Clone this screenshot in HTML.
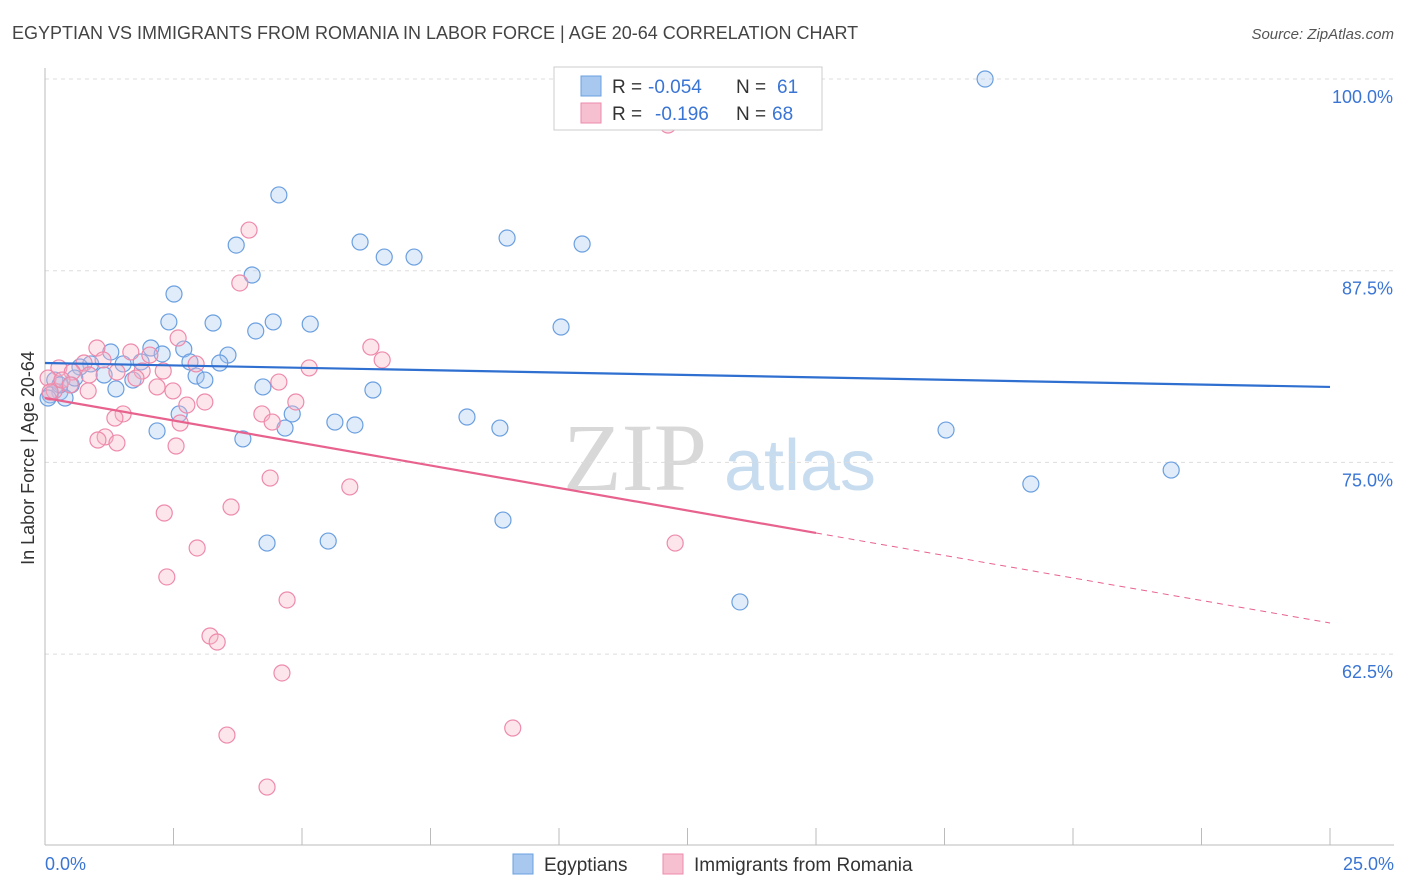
<!DOCTYPE html>
<html><head><meta charset="utf-8"><style>
body{margin:0;background:#fff;font-family:"Liberation Sans",sans-serif;}
svg{display:block}
</style></head><body>
<svg width="1406" height="892" viewBox="0 0 1406 892" id="chart">
<text x="12" y="39" font-size="18" fill="#444">EGYPTIAN VS IMMIGRANTS FROM ROMANIA IN LABOR FORCE | AGE 20-64 CORRELATION CHART</text>
<text x="1394" y="39" font-size="15" fill="#555" font-style="italic" text-anchor="end">Source: ZipAtlas.com</text>
<g>
<text x="635" y="490" font-size="96" fill="#d8d8d8" font-family="Liberation Serif,serif" text-anchor="middle">ZIP</text>
<text x="800" y="490" font-size="72" fill="#c8dcf0" text-anchor="middle">atlas</text>
</g>
<g id="grid"></g>
<g id="axes"></g>
<g id="marks"></g>
<g>
<rect x="554" y="67" width="268" height="63" fill="#fff" stroke="#ccc"/>
<rect x="581" y="76" width="20" height="20" fill="#a8c8f0" stroke="#6a9fe0"/>
<text y="93" font-size="19" fill="#333"><tspan x="612">R =</tspan><tspan x="648" fill="#3a75d4">-0.054</tspan><tspan x="736">N =</tspan><tspan x="777" fill="#3a75d4">61</tspan></text>
<rect x="581" y="103" width="20" height="20" fill="#f7c0d0" stroke="#ee8aab"/>
<text y="120" font-size="19" fill="#333"><tspan x="612">R =</tspan><tspan x="655" fill="#3a75d4">-0.196</tspan><tspan x="736">N =</tspan><tspan x="772" fill="#3a75d4">68</tspan></text>
</g>
<g>
<rect x="513" y="854" width="20" height="20" fill="#a8c8f0" stroke="#6a9fe0"/>
<text x="544" y="871" font-size="19" fill="#333">Egyptians</text>
<rect x="663" y="854" width="20" height="20" fill="#f7c0d0" stroke="#ee8aab"/>
<text x="694" y="871" font-size="19" fill="#333">Immigrants from Romania</text>
</g>
<text x="34" y="458" font-size="18" fill="#333" text-anchor="middle" transform="rotate(-90 34 458)">In Labor Force | Age 20-64</text>
</svg>
<script>
const yTicks=[100,87.5,75,62.5];
const yTickLabels=["100.0%","87.5%","75.0%","62.5%"];
const xTickLabels=["0.0%","25.0%"];
const blueX=[18.29,4.55,8.99,3.72,6.13,10.45,6.60,7.18,4.03,2.51,3.27,2.41,4.44,5.16,10.04,4.10,2.70,2.06,1.28,3.56,2.28,0.89,1.52,1.87,2.82,3.40,0.68,1.15,1.71,2.94,3.11,4.24,6.38,1.38,0.51,0.29,0.10,0.39,2.61,4.81,5.64,6.03,8.21,8.85,2.18,4.67,3.85,17.53,21.91,19.18,8.91,4.32,5.51,13.52,0.19,0.29,0.58,0.06];
const blueY=[100.0,92.44,89.63,89.17,89.37,89.24,88.39,88.39,87.22,85.98,84.09,84.16,84.16,84.02,83.83,83.57,82.39,82.46,82.20,82.00,82.07,81.42,81.42,81.55,81.55,81.48,81.22,80.70,80.37,80.63,80.37,79.92,79.72,79.79,80.05,79.59,79.40,79.20,78.16,78.16,77.63,77.44,77.96,77.24,77.05,77.24,76.53,77.11,74.50,73.59,71.24,69.74,69.87,65.90,80.37,80.05,80.50,79.20];
const pinkX=[12.12,3.97,3.79,2.59,6.34,1.01,6.56,1.67,2.04,0.76,1.13,2.94,5.14,0.27,0.53,1.89,1.40,0.86,2.30,4.55,2.18,1.77,2.49,0.18,3.11,2.76,4.88,0.84,1.52,1.36,4.22,2.63,4.42,1.17,1.03,1.40,2.55,4.38,5.93,3.62,2.32,2.96,12.26,2.37,4.71,3.21,3.35,4.61,9.10,3.54,4.32,0.06,0.33,0.49,0.10];
const pinkY=[97.00,90.15,86.70,83.11,82.52,82.46,81.68,82.20,82.00,81.48,81.68,81.42,81.16,81.16,80.89,80.96,80.89,80.70,80.96,80.24,79.92,80.50,79.66,79.66,78.94,78.74,78.94,79.66,78.16,77.89,78.16,77.57,77.63,76.66,76.46,76.27,76.07,73.98,73.40,72.09,71.70,69.42,69.74,67.53,66.03,63.68,63.29,61.27,57.68,57.22,53.83,80.50,80.37,80.05,79.59];
const blueTrend=[81.48,79.92];
const pinkTrend=[79.20,64.53];
const pinkSolidEnd=15.0;

const NS="http://www.w3.org/2000/svg";
const X=v=>45+v/25*1285;
const Y=v=>79+(100-v)/12.5*191.7;
function mk(tag,attrs,parent){const e=document.createElementNS(NS,tag);for(const k in attrs)e.setAttribute(k,attrs[k]);parent.appendChild(e);return e;}
const grid=document.getElementById('grid'),axes=document.getElementById('axes'),marks=document.getElementById('marks');
yTicks.forEach((t,i)=>{
 const l=mk('line',{x1:45,x2:1394,y1:Y(t),y2:Y(t),stroke:'#ddd','stroke-dasharray':'4,4'},grid);
 
 
 const tx=mk('text',{x:1393,y:Y(t)+24,'font-size':18,fill:'#3a75d4','text-anchor':'end'},axes);
 tx.textContent=yTickLabels[i];
 
 
});
const ax=mk('line',{x1:45,x2:1394,y1:845,y2:845,stroke:'#bbb'},axes);


const ay=mk('line',{x1:45,x2:45,y1:68,y2:845,stroke:'#bbb'},axes);


for(let i=0;i<=10;i++){
 const t=mk('line',{x1:X(i*2.5),x2:X(i*2.5),y1:828,y2:845,stroke:'#bbb'},axes);
 
 
}
[[0,'start',45],[25,'end',1394]].forEach((d,i)=>{
 const tx=mk('text',{x:d[2],y:870,'font-size':18,fill:'#3a75d4','text-anchor':d[1]},axes);
 tx.textContent=xTickLabels[i];
 
 
});
function pts(xs,ys,fill,stroke,name){
 xs.forEach((x,i)=>{
  const c=mk('circle',{cx:X(x),cy:Y(ys[i]),r:8,fill:fill,'fill-opacity':0.35,stroke:stroke,'stroke-width':1.2},marks);
  
  
 });
}
pts(blueX,blueY,'#a8c8f0','#6a9fe0','egyptian-point');
pts(pinkX,pinkY,'#f7b6c8','#ee8aab','romania-point');
const bl=mk('line',{x1:X(0),y1:Y(blueTrend[0]),x2:X(25),y2:Y(blueTrend[1]),stroke:'#2e6fd0','stroke-width':2.2},marks);


const pAt=x=>pinkTrend[0]+(pinkTrend[1]-pinkTrend[0])*x/25;
const pl=mk('line',{x1:X(0),y1:Y(pinkTrend[0]),x2:X(pinkSolidEnd),y2:Y(pAt(pinkSolidEnd)),stroke:'#e8628e','stroke-width':2.2},marks);


const pd=mk('line',{x1:X(pinkSolidEnd),y1:Y(pAt(pinkSolidEnd)),x2:X(25),y2:Y(pinkTrend[1]),stroke:'#e8628e','stroke-width':1,'stroke-dasharray':'6,5'},marks);


</script>
</body></html>
